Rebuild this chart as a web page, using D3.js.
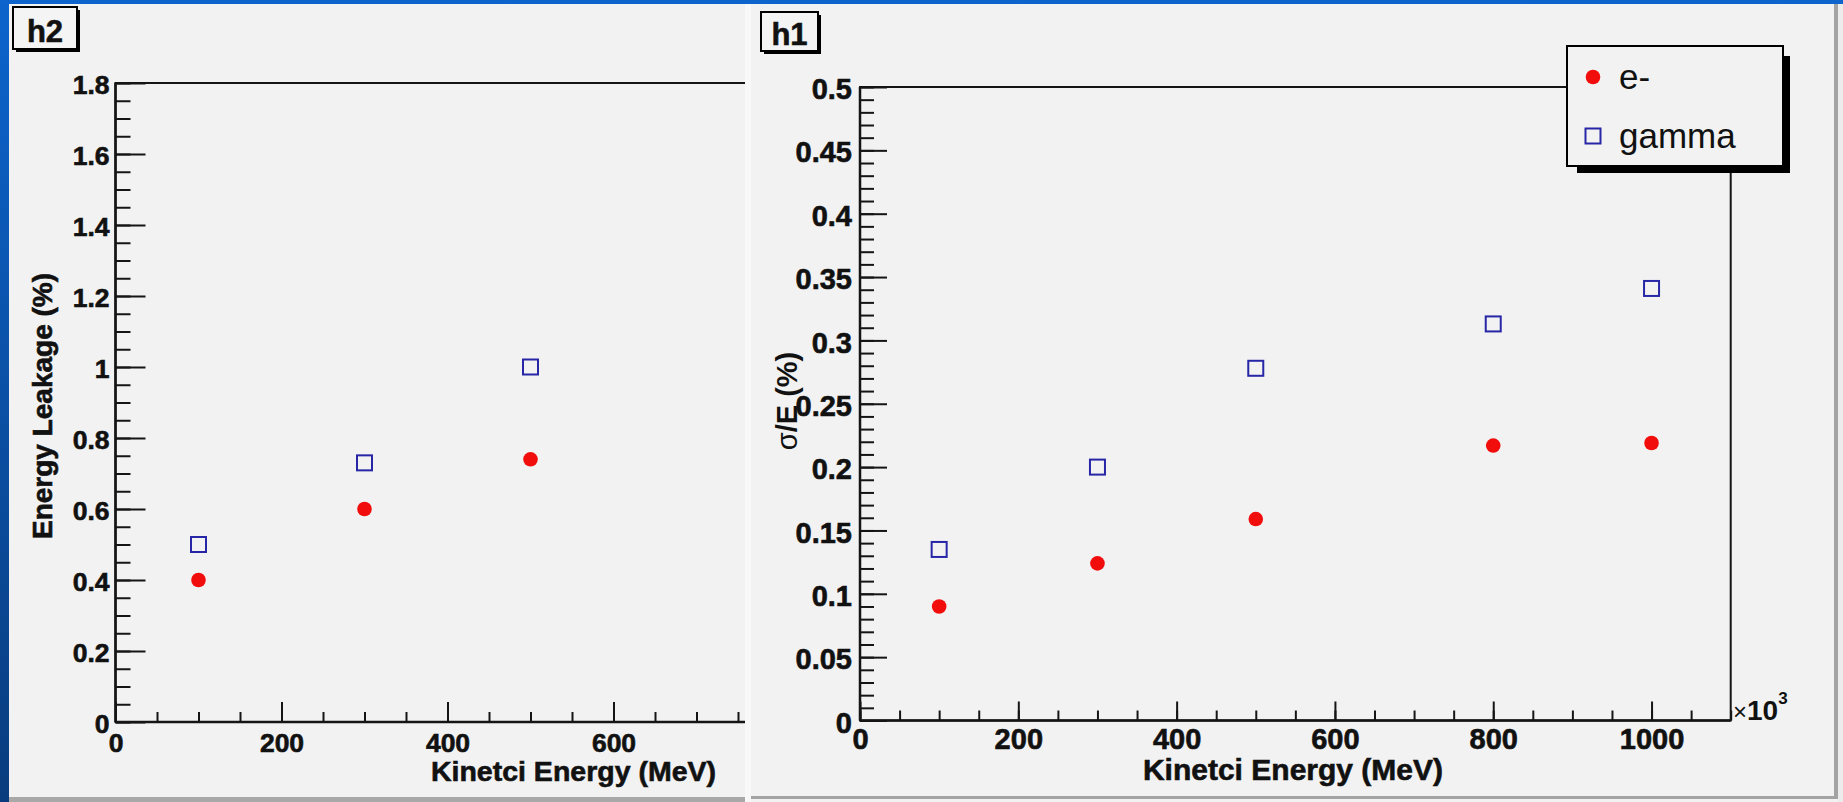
<!DOCTYPE html>
<html>
<head>
<meta charset="utf-8">
<script src="https://cdn.jsdelivr.net/npm/d3@7"></script>
<style>
  html, body { margin: 0; padding: 0; background: #0b5cc0; overflow: hidden; }
  svg { display: block; }
  text { font-family: "Liberation Sans", Arial, Helvetica, sans-serif; fill: #111; }
  text.heavy { stroke: #111; stroke-width: 0.6px; }
</style>
</head>
<body>
<svg id="chart" width="1843" height="802"></svg>
<script>
// ---- h2: energy leakage vs kinetic energy ----
const leakEnergies = [100, 300, 500];
const leakElectron = [0.40, 0.60, 0.74];
const leakGamma    = [0.50, 0.73, 1.00];
const leakXTicks   = [0, 200, 400, 600, 800];
const leakYTicks   = [0, 0.2, 0.4, 0.6, 0.8, 1, 1.2, 1.4, 1.6, 1.8];

// ---- h1: relative resolution vs kinetic energy ----
const resEnergies = [100, 300, 500, 800, 1000];
const resElectron = [0.090, 0.124, 0.159, 0.217, 0.219];
const resGamma    = [0.135, 0.200, 0.278, 0.313, 0.341];
const resXTicks   = [0, 200, 400, 600, 800, 1000];
const resYTicks   = [0, 0.05, 0.1, 0.15, 0.2, 0.25, 0.3, 0.35, 0.4, 0.45, 0.5];

const seriesNames = ["e-", "gamma"];
const xTitle = "Kinetci Energy (MeV)";

const svg = d3.select("#chart");
const W = 1843, H = 802;
const INK = "#151515";
const RED = "#f20d0d";
const BLUE = "#2626a6";

// slide background
const defs = svg.append("defs");
const bg = defs.append("linearGradient").attr("id", "bgGrad")
  .attr("x1", 0).attr("y1", 0).attr("x2", 0).attr("y2", 1);
bg.append("stop").attr("offset", "0%").attr("stop-color", "#0c64cc");
bg.append("stop").attr("offset", "100%").attr("stop-color", "#093c7e");
svg.append("rect").attr("width", W).attr("height", H).attr("fill", "url(#bgGrad)");

// canvas panels
function panelBox(x0, x1, y0, y1) {
  svg.append("rect").attr("x", x0).attr("y", y0).attr("width", x1 - x0).attr("height", y1 - y0)
    .attr("fill", "#f2f2f2");
}
// left canvas
panelBox(9, 745, 4, 797);
svg.append("rect").attr("x", 9).attr("y", 797).attr("width", 736).attr("height", 5).attr("fill", "#a8a8a8");
// strip between canvases
svg.append("rect").attr("x", 745).attr("y", 4).attr("width", 6).attr("height", 798).attr("fill", "#f8f8f8");
// right canvas
panelBox(751, 1843, 4, 802);
svg.append("rect").attr("x", 751).attr("y", 796).attr("width", 1087).attr("height", 3).attr("fill", "#a3a3a3");
svg.append("rect").attr("x", 1834).attr("y", 4).attr("width", 4).attr("height", 795).attr("fill", "#a3a3a3");
svg.append("rect").attr("x", 1838).attr("y", 4).attr("width", 5).attr("height", 798).attr("fill", "#ececec");

const fmt = d => String(+(+d).toFixed(3));

function drawPanel(cfg) {
  const g = svg.append("g");
  const clipId = "clip-" + cfg.name;
  defs.append("clipPath").attr("id", clipId).append("rect")
    .attr("x", cfg.clip[0]).attr("y", cfg.clip[1])
    .attr("width", cfg.clip[2] - cfg.clip[0]).attr("height", cfg.clip[3] - cfg.clip[1]);
  const gc = g.append("g").attr("clip-path", `url(#${clipId})`);

  const x = d3.scaleLinear().domain(cfg.xDomain).range(cfg.xRange);
  const y = d3.scaleLinear().domain(cfg.yDomain).range(cfg.yRange);
  const [xa, xb] = cfg.xRange;
  const [ya, yb] = cfg.yRange;

  // frame
  gc.append("rect").attr("x", xa).attr("y", yb).attr("width", xb - xa).attr("height", ya - yb)
    .attr("fill", "none").attr("stroke", INK).attr("stroke-width", 2);

  // minor ticks
  const yMinor = y.ticks(cfg.yMinorCount);
  const xMinor = x.ticks(cfg.xMinorCount);
  const ym = gc.append("g").attr("transform", `translate(${xa},0)`)
    .call(d3.axisLeft(y).tickValues(yMinor).tickSize(-cfg.yMinorLen).tickFormat(""));
  const xm = gc.append("g").attr("transform", `translate(0,${ya})`)
    .call(d3.axisBottom(x).tickValues(xMinor).tickSize(-cfg.xMinorLen).tickFormat(""));

  // major ticks + labels
  const yM = gc.append("g").attr("transform", `translate(${xa},0)`)
    .call(d3.axisLeft(y).tickValues(cfg.yTicks).tickSize(-cfg.yMajorLen)
      .tickPadding(cfg.yPad).tickFormat(fmt));
  const xM = gc.append("g").attr("transform", `translate(0,${ya})`)
    .call(d3.axisBottom(x).tickValues(cfg.xTicks).tickSize(-cfg.xMajorLen)
      .tickPadding(cfg.xPad).tickFormat(fmt));

  [ym, xm, yM, xM].forEach(a => {
    a.select(".domain").remove();
    a.attr("font-family", null).attr("font-size", null);
    a.selectAll("line").attr("stroke", INK).attr("stroke-width", 2);
    a.selectAll("text").attr("fill", INK).attr("class", "heavy").style("font-weight", "bold")
      .style("font-size", cfg.tickFont + "px");
  });
  yM.selectAll("text").attr("dy", "0.40em");

  // axis lines
  gc.append("line").attr("x1", xa).attr("x2", xa).attr("y1", yb).attr("y2", ya)
    .attr("stroke", INK).attr("stroke-width", 2.5);
  gc.append("line").attr("x1", xa).attr("x2", xb).attr("y1", ya).attr("y2", ya)
    .attr("stroke", INK).attr("stroke-width", 2.5);

  // data markers
  const pts = (xs, vs) => xs.map((e, i) => ({ e, v: vs[i] }));
  gc.selectAll(null).data(pts(cfg.energies, cfg.electron)).join("circle")
    .attr("cx", d => x(d.e)).attr("cy", d => y(d.v)).attr("r", 7.3).attr("fill", RED);
  gc.selectAll(null).data(pts(cfg.energies, cfg.gamma)).join("rect")
    .attr("x", d => x(d.e) - 7.5).attr("y", d => y(d.v) - 7.5)
    .attr("width", 15).attr("height", 15)
    .attr("fill", "none").attr("stroke", BLUE).attr("stroke-width", 2);

  // axis titles
  g.append("text").attr("x", cfg.xTitlePos[0]).attr("y", cfg.xTitlePos[1])
    .attr("class", "heavy")
    .attr("text-anchor", "end").style("font-weight", "bold")
    .style("font-size", cfg.xTitleFont + "px").text(xTitle);

  // histogram name box
  const hb = cfg.nameBox;
  g.append("rect").attr("x", hb.x + 3).attr("y", hb.y + 3).attr("width", hb.w).attr("height", hb.h)
    .attr("fill", "#000");
  g.append("rect").attr("x", hb.x).attr("y", hb.y).attr("width", hb.w).attr("height", hb.h)
    .attr("fill", "#f4f4f4").attr("stroke", "#000").attr("stroke-width", 2);
  g.append("text").attr("x", hb.x + hb.w / 2).attr("y", hb.base).attr("text-anchor", "middle")
    .attr("class", "heavy")
    .style("font-weight", "bold").style("font-size", "31px").text(cfg.name);

  return { g, x, y };
}

// ---- h2 ----
const left = drawPanel({
  name: "h2",
  clip: [9, 4, 745, 797],
  xDomain: [0, 800], xRange: [115.5, 779.5],
  yDomain: [0, 1.8], yRange: [722, 83],
  xTicks: leakXTicks, yTicks: leakYTicks,
  xMinorCount: 16, yMinorCount: 36,
  yMajorLen: 30, yMinorLen: 15, xMajorLen: 20, xMinorLen: 10,
  yPad: 6, xPad: 11, tickFont: 26.5,
  energies: leakEnergies, electron: leakElectron, gamma: leakGamma,
  xTitlePos: [716, 781], xTitleFont: 28.5,
  nameBox: { x: 13, y: 7, w: 64, h: 42, base: 42 }
});
left.g.append("text")
  .attr("transform", "translate(52,406) rotate(-90)")
  .attr("class", "heavy")
  .attr("text-anchor", "middle").style("font-weight", "bold").style("font-size", "28px")
  .text("Energy Leakage (%)");

// ---- h1 ----
const right = drawPanel({
  name: "h1",
  clip: [751, 4, 1834, 796],
  xDomain: [0, 1100], xRange: [860, 1730.7],
  yDomain: [0, 0.5], yRange: [720.5, 87],
  xTicks: resXTicks, yTicks: resYTicks,
  xMinorCount: 22, yMinorCount: 50,
  yMajorLen: 27, yMinorLen: 14, xMajorLen: 19, xMinorLen: 10,
  yPad: 8, xPad: 7.5, tickFont: 29,
  energies: resEnergies, electron: resElectron, gamma: resGamma,
  xTitlePos: [1443, 780], xTitleFont: 30,
  nameBox: { x: 761, y: 12, w: 57, h: 39, base: 45 }
});
const yt = right.g.append("text")
  .attr("transform", "translate(797,401) rotate(-90)")
  .attr("text-anchor", "middle").style("font-size", "29px");
yt.append("tspan").text("σ");
yt.append("tspan").attr("class", "heavy").style("font-weight", "bold").text("/E (%)");

// x10^3 exponent marker
const ex = right.g.append("text").attr("x", 1733).attr("y", 720);
ex.append("tspan").style("font-size", "24px").text("×");
ex.append("tspan").attr("class", "heavy").style("font-size", "28px").style("font-weight", "bold").text("10");
ex.append("tspan").attr("dy", -16).style("font-size", "17px").style("font-weight", "bold").text("3");

// legend
const lg = right.g.append("g");
const lb = { x: 1567, y: 46, w: 216, h: 120 };
lg.append("rect").attr("x", lb.x + 10).attr("y", lb.y + 10).attr("width", lb.w - 3).attr("height", lb.h - 3)
  .attr("fill", "#000");
lg.append("rect").attr("x", lb.x).attr("y", lb.y).attr("width", lb.w).attr("height", lb.h)
  .attr("fill", "#f2f2f2").attr("stroke", "#000").attr("stroke-width", 2);
const legendRows = [77, 136];
seriesNames.forEach((name, i) => {
  const cy = legendRows[i];
  if (i === 0) {
    lg.append("circle").attr("cx", 1593).attr("cy", cy).attr("r", 7.3).attr("fill", RED);
  } else {
    lg.append("rect").attr("x", 1593 - 7.5).attr("y", cy - 7.5).attr("width", 15).attr("height", 15)
      .attr("fill", "none").attr("stroke", BLUE).attr("stroke-width", 2);
  }
  lg.append("text").attr("x", 1619).attr("y", cy + 12)
    .style("font-size", "35px").text(name);
});
</script>
</body>
</html>
